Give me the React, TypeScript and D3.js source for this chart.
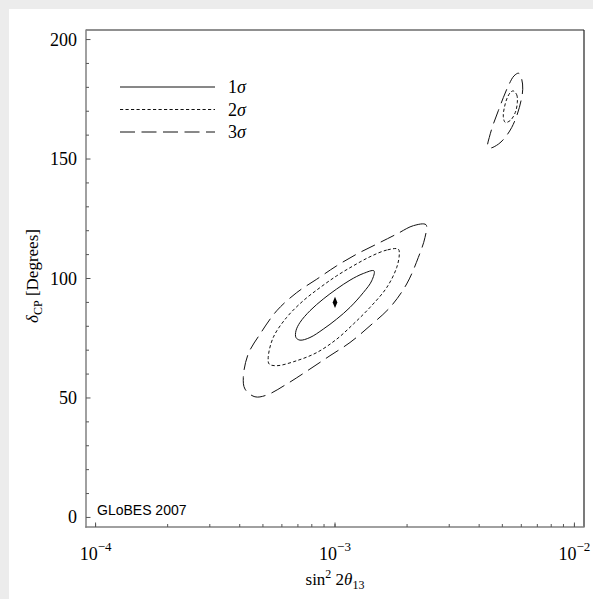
import React from "react";
import * as d3 from "d3";

// ---- data ----
const xTicksMajor = [1e-4, 1e-3, 1e-2];
const xTickExps = ["−4", "−3", "−2"];
const yTicksMajor = [0, 50, 100, 150, 200];
const yTicksMinor = d3.range(0, 201, 10);

const bestFit: [number, number] = [1e-3, 90];

const contour1: [number, number][] = [
  [1.455e-3, 103.2], [1.313e-3, 102.1], [1.155e-3, 99.3], [1.016e-3, 95.6], [8.93e-4, 91.4],
  [7.86e-4, 86.5], [7.14e-4, 81.6], [6.87e-4, 78.1], [6.87e-4, 75.3], [7.14e-4, 74.2],
  [7.86e-4, 75.3], [8.93e-4, 78.8], [1.016e-3, 83.0], [1.155e-3, 87.9], [1.313e-3, 94.1],
  [1.423e-3, 99.0],
];

const contour2: [number, number][] = [
  [1.838e-3, 112.3], [1.644e-3, 111.9], [1.4e-3, 109.1], [1.192e-3, 105.3], [1.016e-3, 101.1],
  [8.66e-4, 96.2], [7.37e-4, 90.7], [6.28e-4, 83.7], [5.52e-4, 75.3], [5.26e-4, 66.9],
  [5.31e-4, 64.2], [5.71e-4, 63.5], [6.92e-4, 65.6], [8.39e-4, 69.0], [1.016e-3, 74.6],
  [1.192e-3, 80.9], [1.4e-3, 87.9], [1.644e-3, 96.2], [1.81e-3, 104.6], [1.856e-3, 110.2],
];

const contour2b: [number, number][] = [
  [5.556e-3, 178.5], [5.741e-3, 176.9], [5.774e-3, 173.6], [5.663e-3, 169.5], [5.418e-3, 166.3],
  [5.146e-3, 165.3], [5.047e-3, 167.7], [5.097e-3, 171.5], [5.245e-3, 175.7], [5.418e-3, 178.0],
];

const contour3: [number, number][] = [
  [2.399e-3, 122.5], [2.124e-3, 122.1], [1.81e-3, 118.6], [1.493e-3, 114.4], [1.232e-3, 110.2],
  [1.016e-3, 105.3], [8.39e-4, 99.7], [6.92e-4, 94.1], [5.71e-4, 86.5], [4.86e-4, 76.7],
  [4.34e-4, 68.4], [4.14e-4, 58.6], [4.21e-4, 53.7], [4.63e-4, 50.5], [5.18e-4, 51.2],
  [6.28e-4, 55.8], [7.86e-4, 62.1], [9.53e-4, 67.7], [1.155e-3, 73.2], [1.4e-3, 80.2],
  [1.697e-3, 87.9], [1.992e-3, 97.7], [2.228e-3, 108.8], [2.376e-3, 117.2],
];

const contour3b: [number, number][] = [
  [5.853e-3, 185.9], [6.024e-3, 183.4], [6.083e-3, 179.2], [5.984e-3, 174.4], [5.774e-3, 168.8],
  [5.471e-3, 163.2], [5.131e-3, 159.0], [4.809e-3, 156.2], [4.44e-3, 154.6], [4.342e-3, 155.5],
  [4.409e-3, 159.0], [4.584e-3, 164.6], [4.809e-3, 170.2], [5.047e-3, 175.7], [5.295e-3, 180.6],
  [5.593e-3, 184.8],
];

const legendLabels = ["1", "2", "3"];

// ---- layout ----
const W = 593, H = 599;
const L = 86, R = 584, T = 30, B = 527;
const serif = "'Liberation Serif', 'DejaVu Serif', serif";
const sans = "'Liberation Sans', Arial, sans-serif";

export default function App() {
  const x = d3.scaleLog().domain([Math.pow(10, -4.04), Math.pow(10, -1.96)]).range([L, R]);
  const y = d3.scaleLinear().domain([-4, 204]).range([B, T]);

  const line = d3
    .line<[number, number]>()
    .x((d) => x(d[0]))
    .y((d) => y(d[1]))
    .curve(d3.curveCatmullRomClosed.alpha(0.5));

  const xMinor: number[] = [];
  for (let e = -5; e <= -2; e++) {
    for (let m = 1; m <= 9; m++) {
      const v = m * Math.pow(10, e);
      const p = x(v);
      if (p >= L + 1 && p <= R - 1) xMinor.push(v);
    }
  }

  const dashes = ["none", "3.2,2.3", "15,6.5"];

  const symbol = d3.symbol().type(d3.symbolDiamond).size(26)();

  return (
    <div style={{ position: "absolute", left: 0, top: 0 }}>
      <svg width={W} height={H} style={{ display: "block" }}>
        <rect x={0} y={0} width={W} height={H} fill="#ececec" />
        <rect x={9} y={9} width={W - 9} height={H - 9} fill="#ffffff" />

        {/* contours */}
        <g fill="none" stroke="#111" strokeWidth={1}>
          <path d={line(contour1) || ""} />
          <path d={line(contour2) || ""} strokeDasharray={dashes[1]} />
          <path d={line(contour2b) || ""} strokeDasharray={dashes[1]} />
          <path d={line(contour3) || ""} strokeDasharray={dashes[2]} />
          <path d={line(contour3b) || ""} strokeDasharray={dashes[2]} />
        </g>
        <path d={symbol || ""} transform={`translate(${x(bestFit[0])},${y(bestFit[1])}) scale(0.85,1.2)`} fill="#000" />

        {/* frame */}
        <line x1={L} x2={R} y1={T} y2={T} stroke="#222" strokeWidth={1.2} />
        <line x1={R} x2={R} y1={T} y2={B} stroke="#222" strokeWidth={1.2} />
        <line x1={L} x2={L} y1={T - 0.6} y2={B + 0.7} stroke="#808080" strokeWidth={1.5} />
        <line x1={L - 0.7} x2={R + 0.6} y1={B} y2={B} stroke="#808080" strokeWidth={1.5} />

        {/* y ticks */}
        {yTicksMinor.map((v) => (
          <line key={"ym" + v} x1={L} x2={L + (v % 50 === 0 ? 4.5 : 3)} y1={y(v)} y2={y(v)} stroke="#555" strokeWidth={1} />
        ))}
        {yTicksMajor.map((v) => (
          <text key={"yl" + v} x={77} y={y(v) + 6} textAnchor="end" fontFamily={serif} fontSize={18} fill="#000">
            {v}
          </text>
        ))}

        {/* x ticks */}
        {xMinor.map((v, i) => (
          <line key={"xm" + i} x1={x(v)} x2={x(v)} y1={B} y2={B - 3} stroke="#555" strokeWidth={1} />
        ))}
        {xTicksMajor.map((v, i) => (
          <g key={"xl" + i}>
            <line x1={x(v)} x2={x(v)} y1={B} y2={B - 4.5} stroke="#555" strokeWidth={1} />
            <text x={x(v)} y={560} textAnchor="middle" fontFamily={serif} fontSize={18} fill="#000">
              10
              <tspan fontSize={13} dy={-9}>{xTickExps[i]}</tspan>
            </text>
          </g>
        ))}

        {/* axis titles */}
        <text x={335} y={585} textAnchor="middle" fontFamily={serif} fontSize={17} fill="#000">
          sin
          <tspan fontSize={12} dy={-7}>2</tspan>
          <tspan dy={7}> 2</tspan>
          <tspan fontStyle="italic">θ</tspan>
          <tspan fontSize={12} dy={4}>13</tspan>
        </text>
        <text transform="translate(38,276) rotate(-90)" textAnchor="middle" fontFamily={serif} fontSize={17} fill="#000">
          <tspan fontStyle="italic">δ</tspan>
          <tspan fontSize={12} dy={4}>CP</tspan>
          <tspan dy={-4}>{"  [Degrees]"}</tspan>
        </text>

        {/* legend */}
        {legendLabels.map((lab, i) => {
          const ly = 87 + i * 22.5;
          return (
            <g key={"lg" + i}>
              <line x1={120} x2={215} y1={ly} y2={ly} stroke="#111" strokeWidth={1} strokeDasharray={dashes[i]} />
              <text x={228} y={ly + 6} fontFamily={serif} fontSize={18} fill="#000">
                {lab}
                <tspan fontStyle="italic">σ</tspan>
              </text>
            </g>
          );
        })}

        <text x={97} y={515} fontFamily={sans} fontSize={14} fill="#000">
          GLoBES 2007
        </text>
      </svg>
    </div>
  );
}
